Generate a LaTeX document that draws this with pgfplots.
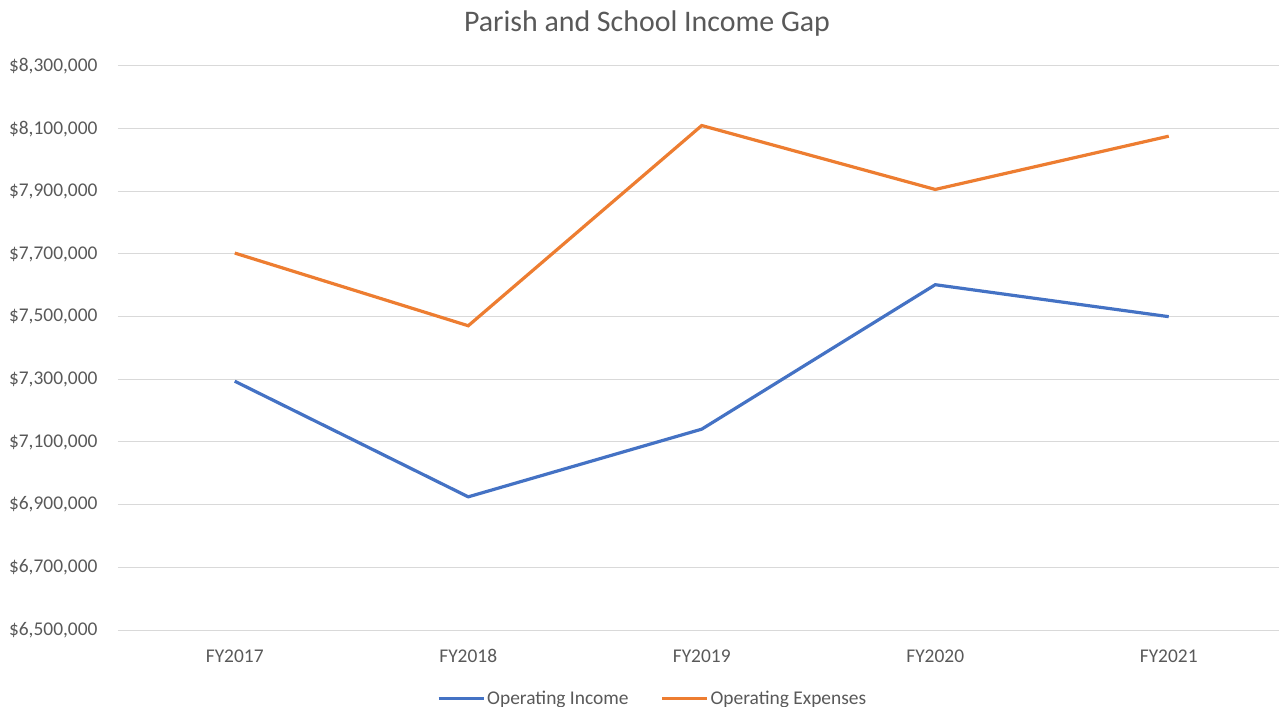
\documentclass[border=0pt]{standalone}
\usepackage{fontspec}
\setmainfont{Carlito}
\usepackage{pgfplots}
\pgfplotsset{compat=1.18}
\definecolor{cblue}{HTML}{4472C4}
\definecolor{corange}{HTML}{ED7D31}
\definecolor{gridc}{HTML}{D9D9D9}
\definecolor{txt}{HTML}{595959}
\begin{document}
\begin{tikzpicture}[x=1bp,y=1bp]
\begin{axis}[
  at={(0,0)}, anchor=south west,
  scale only axis,
  width=1167.5bp, height=564bp,
  xmin=-0.5, xmax=4.5,
  ymin=6500000, ymax=8300000,
  xtick={0,1,2,3,4},
  xticklabels={FY2017,FY2018,FY2019,FY2020,FY2021},
  ytick={6500000,6700000,6900000,7100000,7300000,7500000,7700000,7900000,8100000,8300000},
  yticklabels={{\$6,500,000},{\$6,700,000},{\$6,900,000},{\$7,100,000},{\$7,300,000},{\$7,500,000},{\$7,700,000},{\$7,900,000},{\$8,100,000},{\$8,300,000}},
  scaled y ticks=false,
  ymajorgrids=true, xmajorgrids=false,
  y grid style={gridc, line width=1bp},
  axis line style={draw=none},
  tick style={draw=none},
  ticklabel style={font=\fontsize{19.5}{22}\selectfont, text=txt},
  yticklabel style={xshift=-17bp},
  xticklabel style={yshift=-16bp},
  legend style={at={(0.458,-0.121)}, anchor=center, draw=none, legend columns=2,
    font=\fontsize{19.5}{22}\selectfont, text=txt,
    /tikz/every even column/.append style={column sep=30bp}},
  legend image code/.code={\draw[#1, line width=3bp] (0bp,0bp) -- (45bp,0bp);},
  legend cell align=left,
  clip=false,
]
\addplot[cblue, line width=3.2bp] coordinates {(0,7294000) (1,6925000) (2,7141000) (3,7602000) (4,7500000)};
\addlegendentry{Operating Income}
\addplot[corange, line width=3.2bp] coordinates {(0,7703000) (1,7471000) (2,8110000) (3,7906000) (4,8076000)};
\addlegendentry{Operating Expenses}
\end{axis}
\node[text=txt, font=\fontsize{30}{34}\selectfont] at (529bp,606bp) {Parish and School Income Gap};
\pgfresetboundingbox
\useasboundingbox (-118bp,-77bp) rectangle (1161bp,630bp);
\end{tikzpicture}
\end{document}
